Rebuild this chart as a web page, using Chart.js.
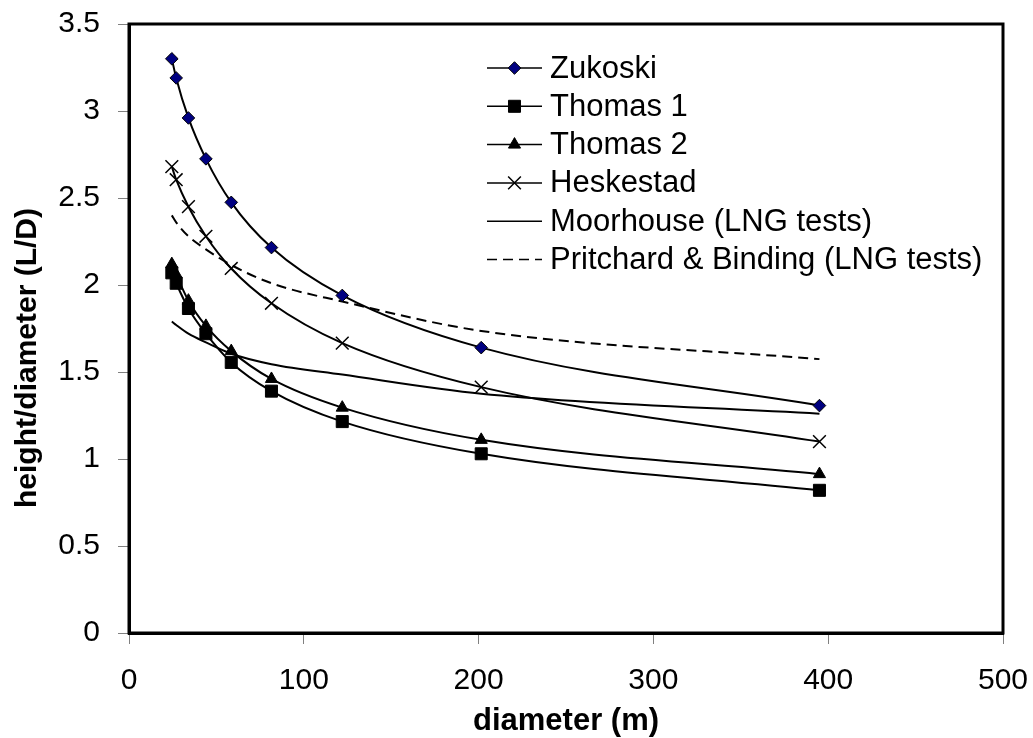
<!DOCTYPE html>
<html>
<head>
<meta charset="utf-8">
<script src="https://cdn.jsdelivr.net/npm/chart.js@4.4.0/dist/chart.umd.min.js"></script>
<style>
html,body{margin:0;padding:0;background:#ffffff;}
#wrap{width:1033px;height:738px;position:relative;}
</style>
</head>
<body>
<div id="wrap"><canvas id="c" width="1033" height="738"></canvas></div>
<script>
// ---- data ----
const diameters = [24.5, 27, 34, 44, 58.5, 81.5, 122, 201.5, 395];
const zukoski   = [3.30, 3.19, 2.96, 2.725, 2.475, 2.215, 1.94, 1.64, 1.307];
const thomas1   = [2.07, 2.01, 1.865, 1.72, 1.555, 1.39, 1.215, 1.03, 0.82];
const thomas2   = [2.12, 2.06, 1.91, 1.765, 1.62, 1.46, 1.295, 1.11, 0.913];
const heskestad = [2.68, 2.605, 2.45, 2.28, 2.095, 1.895, 1.666, 1.413, 1.10];
const moorhouse = [1.79, 1.77, 1.72, 1.67, 1.605, 1.545, 1.485, 1.375, 1.26];
const pritchard = [2.40, 2.36, 2.28, 2.205, 2.115, 2.01, 1.905, 1.736, 1.574];
const seriesNames = ['Zukoski', 'Thomas 1', 'Thomas 2', 'Heskestad',
                     'Moorhouse (LNG tests)', 'Pritchard & Binding (LNG tests)'];
const xTickValues = [0, 100, 200, 300, 400, 500];
const yTickValues = [0, 0.5, 1, 1.5, 2, 2.5, 3, 3.5];
const xTitle = 'diameter (m)';
const yTitle = 'height/diameter (L/D)';

const FONT = "'Liberation Sans', Arial, sans-serif";
const toPts = ys => diameters.map((d, i) => ({x: d, y: ys[i]}));

function ds(label, ys, style) {
  return Object.assign({
    label: label,
    data: toPts(ys),
    borderColor: '#000000',
    borderWidth: 2,
    cubicInterpolationMode: 'monotone',
    pointBackgroundColor: '#000000',
    pointBorderColor: '#000000',
    pointBorderWidth: 1,
    pointRadius: 0,
    pointHoverRadius: 0,
    fill: false
  }, style);
}

const datasets = [
  ds(seriesNames[0], zukoski,   {pointStyle: 'rectRot', pointRadius: 6.3, pointBackgroundColor: '#000080'}),
  ds(seriesNames[1], thomas1,   {pointStyle: 'rect', pointRadius: 8.5}),
  ds(seriesNames[2], thomas2,   {pointStyle: 'triangle', pointRadius: 7}),
  ds(seriesNames[3], heskestad, {pointStyle: 'crossRot', pointRadius: 9, pointBorderWidth: 1.5}),
  ds(seriesNames[4], moorhouse, {pointRadius: 0}),
  ds(seriesNames[5], pritchard, {pointRadius: 0, borderDash: [10, 6]})
];

function drawMarker(ctx, d, x, y, scale) {
  if (!d.pointRadius) return;
  ctx.save();
  ctx.fillStyle = d.pointBackgroundColor;
  ctx.strokeStyle = d.pointBorderColor;
  ctx.lineWidth = d.pointBorderWidth;
  ctx.setLineDash([]);
  Chart.helpers.drawPoint(ctx, {pointStyle: d.pointStyle, radius: d.pointRadius * scale,
                               borderWidth: d.pointBorderWidth, rotation: 0}, x, y);
  ctx.restore();
}

const insideLegend = {
  id: 'insideLegend',
  afterDraw(chart, args, o) {
    const ctx = chart.ctx;
    ctx.save();
    chart.data.datasets.forEach((d, i) => {
      const y = o.top + i * o.rowHeight;
      ctx.beginPath();
      ctx.setLineDash(d.borderDash || []);
      ctx.lineWidth = 1.5;
      ctx.strokeStyle = d.borderColor;
      ctx.moveTo(o.left, y);
      ctx.lineTo(o.left + o.lineLength, y);
      ctx.stroke();
      ctx.setLineDash([]);
      drawMarker(ctx, d, o.left + o.lineLength / 2, y, 1.0);
      ctx.fillStyle = '#000000';
      ctx.font = o.font;
      ctx.textBaseline = 'middle';
      ctx.textAlign = 'left';
      ctx.fillText(d.label, o.left + o.lineLength + o.gap, y + 1);
    });
    ctx.restore();
  }
};

const frame = {
  id: 'frame',
  beforeDatasetsDraw(chart) {
    const a = chart.chartArea, ctx = chart.ctx;
    ctx.save();
    ctx.strokeStyle = '#000000';
    ctx.lineWidth = 3;
    ctx.strokeRect(a.left, a.top, a.right - a.left, a.bottom - a.top);
    ctx.restore();
  }
};

const yAxisTitle = {
  id: 'yAxisTitle',
  afterDraw(chart, args, o) {
    const ctx = chart.ctx;
    ctx.save();
    ctx.translate(o.x, o.y);
    ctx.rotate(-Math.PI / 2);
    ctx.fillStyle = '#000000';
    ctx.font = o.font;
    ctx.textAlign = 'center';
    ctx.textBaseline = 'middle';
    ctx.fillText(o.text, 0, 0);
    ctx.restore();
  }
};

new Chart(document.getElementById('c'), {
  type: 'line',
  data: {datasets: datasets},
  plugins: [frame, insideLegend, yAxisTitle],
  options: {
    responsive: false,
    animation: false,
    events: [],
    layout: {padding: {top: 24, right: 30, left: 0, bottom: 0}},
    plugins: {
      legend: {display: false},
      tooltip: {enabled: false},
      insideLegend: {left: 487, top: 68, rowHeight: 38.3, lineLength: 55, gap: 8,
                     font: '31px ' + FONT},
      yAxisTitle: {text: yTitle, x: 28, y: 358, font: 'bold 30px ' + FONT}
    },
    scales: {
      x: {
        type: 'linear',
        min: 0, max: 500,
        afterBuildTicks: s => { s.ticks = xTickValues.map(v => ({value: v})); },
        afterFit: s => { s.height = 105; s.paddingLeft = 0; s.paddingRight = 0; },
        ticks: {color: '#000000', font: {family: FONT, size: 30}, padding: 19, maxRotation: 0,
                callback: v => String(v)},
        grid: {drawOnChartArea: false, drawTicks: true, tickLength: 11, tickColor: '#808080', tickWidth: 1},
        border: {display: true, color: '#000000', width: 3},
        title: {display: true, text: xTitle, color: '#000000',
                font: {family: FONT, size: 31, weight: 'bold', lineHeight: 1},
                padding: {top: 0, bottom: 1}}
      },
      y: {
        type: 'linear',
        min: 0, max: 3.5,
        afterBuildTicks: s => { s.ticks = yTickValues.map(v => ({value: v})); },
        afterFit: s => { s.width = 129; s.paddingTop = 0; s.paddingBottom = 0; },
        ticks: {color: '#000000', font: {family: FONT, size: 30}, padding: 18,
                callback: v => String(v)},
        grid: {drawOnChartArea: false, drawTicks: true, tickLength: 11, tickColor: '#808080', tickWidth: 1},
        border: {display: true, color: '#000000', width: 3},
        title: {display: false}
      }
    }
  }
});
</script>
</body>
</html>
